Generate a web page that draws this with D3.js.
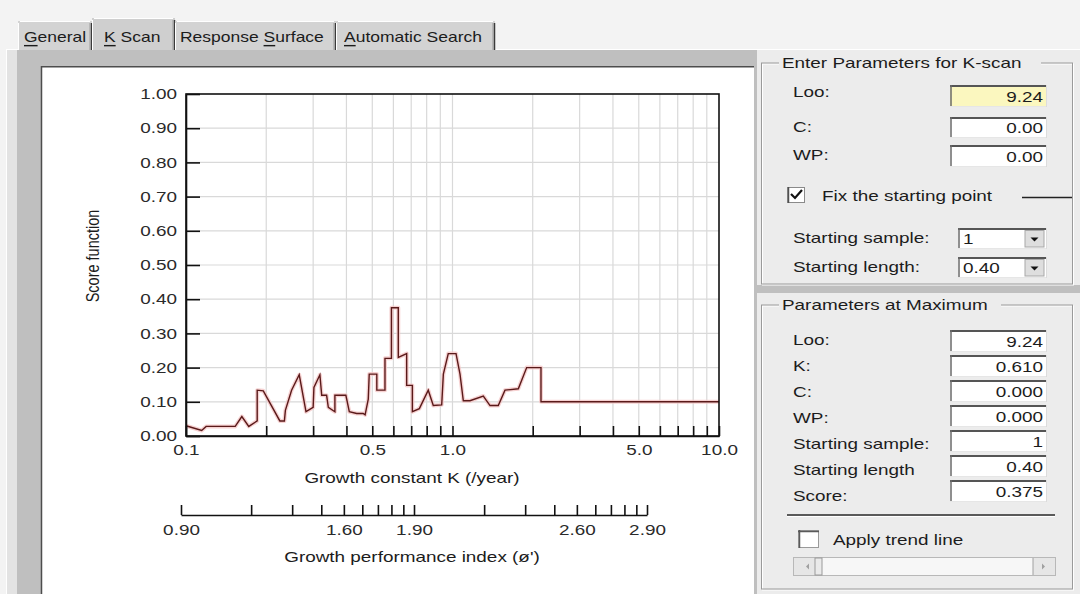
<!DOCTYPE html>
<html>
<head>
<meta charset="utf-8">
<script src="https://cdn.jsdelivr.net/npm/d3@7"></script>
<style>
  html, body { margin: 0; padding: 0; background: #f3f3f3; }
  svg { display: block; }
  text { font-family: "Liberation Sans", Arial, sans-serif; fill: #1c1c1c; }
</style>
</head>
<body>
<svg id="view" width="1080" height="594"></svg>
<script>
// ---- K-scan result: score function against growth constant K ----
const kValues = [
  0.100, 0.1145, 0.119, 0.153, 0.162, 0.172, 0.185, 0.185, 0.195, 0.225,
  0.234, 0.236, 0.249, 0.266, 0.282, 0.300, 0.302, 0.318, 0.323, 0.337,
  0.342, 0.362, 0.362, 0.398, 0.410, 0.437, 0.462, 0.470, 0.483, 0.487,
  0.520, 0.520, 0.558, 0.558, 0.590, 0.590, 0.626, 0.626, 0.673, 0.673,
  0.707, 0.707, 0.751, 0.811, 0.847, 0.911, 0.924, 0.964, 1.031, 1.067,
  1.098, 1.163, 1.305, 1.383, 1.485, 1.574, 1.766, 1.898, 2.148, 2.148,
  10.0
];
const scores = [
  0.030, 0.016, 0.028, 0.028, 0.057, 0.028, 0.044, 0.134, 0.132, 0.044,
  0.044, 0.075, 0.134, 0.179, 0.071, 0.084, 0.142, 0.179, 0.119, 0.119,
  0.084, 0.071, 0.119, 0.119, 0.071, 0.066, 0.066, 0.062, 0.108, 0.181,
  0.181, 0.134, 0.134, 0.227, 0.227, 0.375, 0.375, 0.230, 0.241, 0.148,
  0.148, 0.071, 0.080, 0.134, 0.089, 0.091, 0.181, 0.241, 0.241, 0.181,
  0.103, 0.103, 0.117, 0.089, 0.089, 0.134, 0.138, 0.200, 0.200, 0.100,
  0.100
];

// ---- axis ticks ----
const kTicks = [0.1, 0.2, 0.3, 0.4, 0.5, 0.6, 0.7, 0.8, 0.9,
                1, 2, 3, 4, 5, 6, 7, 8, 9, 10];
const kLabelTicks = [0.1, 0.5, 1, 5, 10];
const kLabelText = ["0.1", "0.5", "1.0", "5.0", "10.0"];
const phiLabelText = ["0.90", "1.60", "1.90", "2.60", "2.90"];
const scoreTicks = [0, 0.1, 0.2, 0.3, 0.4, 0.5, 0.6, 0.7, 0.8, 0.9, 1.0];

// ---- dialog contents ----
const tabNames = [
  { pre: "", key: "G", post: "eneral" },
  { pre: "", key: "K", post: " Scan" },
  { pre: "Response ", key: "S", post: "urface" },
  { pre: "", key: "A", post: "utomatic Search" }
];
const scanLabels = ["Loo:", "C:", "WP:"];
const scanValues = ["9.24", "0.00", "0.00"];
const startSample = "1";
const startLength = "0.40";
const maxLabels = ["Loo:", "K:", "C:", "WP:", "Starting sample:", "Starting length", "Score:"];
const maxValues = ["9.24", "0.610", "0.000", "0.000", "1", "0.40", "0.375"];

const SX = 1.35;      // horizontal stretch of the dialog font
const SX_TAB = 1.25;
const FS = 14;

const svg = d3.select("#view");

function txt(g, x, y, s, anchor = "start", size = FS) {
  return g.append("text")
    .attr("transform", `translate(${x},${y}) scale(${SX},1)`)
    .attr("text-anchor", anchor)
    .attr("dominant-baseline", "central")
    .style("font-size", size + "px")
    .text(s);
}
function hline(g, x1, x2, y, c, w = 1) {
  g.append("line").attr("x1", x1).attr("x2", x2).attr("y1", y).attr("y2", y)
    .attr("stroke", c).attr("stroke-width", w);
}
function vline(g, x, y1, y2, c, w = 1) {
  g.append("line").attr("x1", x).attr("x2", x).attr("y1", y1).attr("y2", y2)
    .attr("stroke", c).attr("stroke-width", w);
}

// ---------- window frame ----------
const frame = svg.append("g");
frame.append("rect").attr("width", 1080).attr("height", 594).attr("fill", "#f3f3f3");
frame.append("rect").attr("x", 6).attr("y", 49).attr("width", 1074).attr("height", 545).attr("fill", "#e3e3e3");
hline(frame, 6, 1080, 49.5, "#ffffff");
vline(frame, 6.5, 49, 594, "#ffffff");
frame.append("rect").attr("x", 17).attr("y", 50).attr("width", 1063).attr("height", 544).attr("fill", "#bfbfbf");
frame.append("rect").attr("x", 41).attr("y", 67).attr("width", 713).attr("height", 527).attr("fill", "#ffffff");
vline(frame, 41.5, 66, 594, "#4d4d4d", 1.5);
hline(frame, 41, 754, 66.8, "#4d4d4d", 1.5);

// ---------- tabs ----------
const tabs = svg.append("g");
const tabBounds = [[18, 92], [92, 175], [175, 336], [336, 495]];
const tabTextX = [24, 104, 180, 344];
tabNames.forEach((t, i) => {
  const [x0, x1] = tabBounds[i];
  const sel = i === 1;
  const top = sel ? 18 : 21;
  tabs.append("rect").attr("x", x0).attr("y", top).attr("width", x1 - x0).attr("height", 50 - top)
    .attr("fill", sel ? "#cfcfcf" : "#d3d3d3");
  vline(tabs, x0 + 0.5, top + 2, 50, "#ffffff");
  hline(tabs, x0 + 2, x1 - 2, top + 0.5, "#ffffff");
  vline(tabs, x1 - 0.5, top + 2, 50, "#3a3a3a", 1.5);
  vline(tabs, x1 - 2, top + 2, 50, "#9a9a9a");
  const tx = tabs.append("text")
    .attr("transform", `translate(${tabTextX[i]},37) scale(${SX_TAB},1)`)
    .attr("dominant-baseline", "central")
    .style("font-size", FS + "px");
  if (t.pre) tx.append("tspan").text(t.pre);
  tx.append("tspan").style("text-decoration", "underline").text(t.key);
  tx.append("tspan").text(t.post);
});

// ---------- chart ----------
const x = d3.scaleLog().domain([0.1, 10]).range([186, 719]);
const y = d3.scaleLinear().domain([0, 1]).range([436, 94]);
const xPhi = d3.scaleLog().domain([0.1, 10]).range([181, 647]);

const chart = svg.append("g");

// grid
chart.append("g").selectAll("line").data(kTicks.slice(1, -1)).join("line")
  .attr("x1", d => x(d)).attr("x2", d => x(d)).attr("y1", y(0)).attr("y2", y(1))
  .attr("stroke", "#d9d9d9").attr("stroke-width", 1.2);
chart.append("g").selectAll("line").data(scoreTicks.slice(1, -1)).join("line")
  .attr("x1", x(0.1)).attr("x2", x(10)).attr("y1", d => y(d)).attr("y2", d => y(d))
  .attr("stroke", "#d9d9d9").attr("stroke-width", 1.2);

// score curve
const pts = kValues.map((k, i) => ({ k, s: scores[i] }));
const line = d3.line().x(d => x(d.k)).y(d => y(d.s));
chart.append("path").datum(pts).attr("d", line)
  .attr("fill", "none").attr("stroke", "#f4c6c6").attr("stroke-width", 4).attr("stroke-opacity", 0.8)
  .attr("stroke-linejoin", "round");
chart.append("path").datum(pts).attr("d", line)
  .attr("fill", "none").attr("stroke", "#5a1a1a").attr("stroke-width", 1.4)
  .attr("stroke-linejoin", "miter");

// plot frame
chart.append("rect").attr("x", x(0.1)).attr("y", y(1))
  .attr("width", x(10) - x(0.1)).attr("height", y(0) - y(1))
  .attr("fill", "none").attr("stroke", "#111").attr("stroke-width", 1.6);

function styleAxis(g) {
  g.attr("font-family", null).attr("font-size", null);
  g.selectAll(".tick line").attr("stroke", "#111").attr("stroke-width", 1.6);
  g.select(".domain").attr("stroke", "#111").attr("stroke-width", 1.6);
}

// score axis
const yAxis = chart.append("g").attr("transform", `translate(${x(0.1)},0)`)
  .call(d3.axisLeft(y).tickValues(scoreTicks).tickSize(-14).tickSizeOuter(0)
    .tickFormat(d3.format(".2f")));
styleAxis(yAxis);
yAxis.selectAll(".tick text")
  .attr("x", 0).attr("dy", null).attr("dominant-baseline", "central")
  .attr("transform", `translate(-9,0) scale(${SX},1)`)
  .style("font-size", FS + "px").style("fill", "#2a2a2a");

// K axis
const kAxis = chart.append("g").attr("transform", `translate(0,${y(0)})`)
  .call(d3.axisBottom(x).tickValues(kTicks).tickSize(-10).tickSizeOuter(0)
    .tickFormat(d => { const j = kLabelTicks.indexOf(d); return j >= 0 ? kLabelText[j] : ""; }));
styleAxis(kAxis);
kAxis.selectAll(".tick text")
  .attr("y", 14).attr("dy", null).attr("dominant-baseline", "central")
  .attr("transform", `scale(${SX},1)`)
  .style("font-size", FS + "px").style("fill", "#2a2a2a");

// growth performance index axis
const phiAxis = chart.append("g").attr("transform", "translate(0,515)")
  .call(d3.axisBottom(xPhi).tickValues(kTicks).tickSize(-10).tickSizeOuter(0)
    .tickFormat(d => { const j = kLabelTicks.indexOf(d); return j >= 0 ? phiLabelText[j] : ""; }));
styleAxis(phiAxis);
phiAxis.selectAll(".tick text")
  .attr("y", 15).attr("dy", null).attr("dominant-baseline", "central")
  .attr("transform", `scale(${SX},1)`)
  .style("font-size", FS + "px").style("fill", "#2a2a2a");

// axis titles
txt(chart, 412, 478, "Growth constant K (/year)", "middle");
txt(chart, 412, 557, "Growth performance index (\u00f8')", "middle");
chart.append("text")
  .attr("transform", "translate(93,256) rotate(-90) scale(1,1.3)")
  .attr("text-anchor", "middle").attr("dominant-baseline", "central")
  .style("font-size", "14.5px").text("Score function");

// ---------- right side panels ----------
const side = svg.append("g");
side.append("rect").attr("x", 757).attr("y", 50).attr("width", 323).attr("height", 235).attr("fill", "#ececec");
side.append("rect").attr("x", 757).attr("y", 293).attr("width", 323).attr("height", 301).attr("fill", "#ececec");

function groupBox(g, y0, y1, title, titleW) {
  g.append("rect").attr("x", 762.5).attr("y", y0 + 1).attr("width", 311).attr("height", y1 - y0)
    .attr("fill", "none").attr("stroke", "#ffffff");
  g.append("rect").attr("x", 761.5).attr("y", y0).attr("width", 311).attr("height", y1 - y0)
    .attr("fill", "none").attr("stroke", "#9a9a9a");
  g.append("rect").attr("x", 779).attr("y", y0 - 8).attr("width", titleW).attr("height", 16).attr("fill", "#ececec");
  txt(g, 782, y0, title);
}
function field(g, x0, x1, y0, y1, value, fill = "#ffffff", anchor = "end") {
  g.append("rect").attr("x", x0).attr("y", y0).attr("width", x1 - x0).attr("height", y1 - y0).attr("fill", fill);
  hline(g, x0, x1, y0 + 1, "#555555", 2);
  vline(g, x0 + 1, y0, y1, "#6a6a6a", 1.5);
  hline(g, x0, x1, y1 - 0.5, "#e6e6e6");
  vline(g, x1 - 0.5, y0, y1, "#dcdcdc");
  const cy = (y0 + y1) / 2 + 1;
  if (anchor === "end") txt(g, x1 - 4, cy, value, "end");
  else txt(g, x0 + 5, cy, value, "start");
}
function combo(g, x0, x1, y0, y1, value) {
  field(g, x0, x1, y0, y1, value, "#ffffff", "start");
  const bx = x1 - 22;
  g.append("rect").attr("x", bx).attr("y", y0 + 2.5).attr("width", 19).attr("height", y1 - y0 - 4.5)
    .attr("fill", "#dedede").attr("stroke", "#a8a8a8");
  const cx = bx + 9.5, cy = (y0 + y1) / 2 + 1;
  g.append("path").attr("d", `M${cx - 4},${cy - 2}L${cx + 4},${cy - 2}L${cx},${cy + 2}Z`).attr("fill", "#111");
}

// parameters for the scan
groupBox(side, 63, 284, "Enter Parameters for K-scan", 262);
const scanTop = [85, 117, 145], scanBot = [107, 138, 167], scanLabY = [92, 127, 155];
scanLabels.forEach((l, i) => {
  txt(side, 793, scanLabY[i], l);
  field(side, 950, 1047, scanTop[i], scanBot[i], scanValues[i], i === 0 ? "#fbf7bf" : "#ffffff");
});
// checkbox
side.append("rect").attr("x", 787.5).attr("y", 187.5).attr("width", 17).attr("height", 15)
  .attr("fill", "#ffffff").attr("stroke", "#8a8a8a");
vline(side, 788.5, 187, 203, "#505050", 1.5);
side.append("path").attr("d", "M791,194 L795,198 L802,190").attr("fill", "none")
  .attr("stroke", "#111").attr("stroke-width", 2.2);
txt(side, 822, 196, "Fix the starting point");
hline(side, 1022, 1072, 197.5, "#222", 1.3);
txt(side, 793, 238, "Starting sample:");
combo(side, 958, 1047, 228, 249, startSample);
txt(side, 793, 267, "Starting length:");
combo(side, 958, 1047, 257, 278, startLength);

// parameters at the maximum
groupBox(side, 305, 589, "Parameters at Maximum", 222);
maxLabels.forEach((l, i) => {
  txt(side, 793, 340 + i * 26.1, l);
  field(side, 950, 1047, 330 + i * 25, 352 + i * 25, maxValues[i]);
});
hline(side, 787, 1055, 515, "#2a2a2a", 1.5);
hline(side, 787, 1055, 516.5, "#ffffff", 1);
// trend checkbox
side.append("rect").attr("x", 798.5).attr("y", 530.5).attr("width", 20).attr("height", 17)
  .attr("fill", "#ffffff").attr("stroke", "#9a9a9a");
vline(side, 799.5, 530, 548, "#5a5a5a", 1.5);
hline(side, 798, 819, 531.5, "#5a5a5a", 1.5);
txt(side, 833, 540, "Apply trend line");
// scroll bar
side.append("rect").attr("x", 793.5).attr("y", 557.5).attr("width", 262).attr("height", 18)
  .attr("fill", "#f7f7f7").attr("stroke", "#b8b8b8");
side.append("rect").attr("x", 794).attr("y", 558).attr("width", 21).attr("height", 17).attr("fill", "#e6e6e6");
side.append("rect").attr("x", 815).attr("y", 558).attr("width", 7).attr("height", 17).attr("fill", "#eaeaea")
  .attr("stroke", "#9a9a9a");
side.append("rect").attr("x", 1033).attr("y", 558).attr("width", 22).attr("height", 17).attr("fill", "#e6e6e6");
vline(side, 1033, 558, 575, "#a0a0a0");
side.append("path").attr("d", "M806,566.5 L809,563.5 L809,569.5Z").attr("fill", "#a0a0a0");
side.append("path").attr("d", "M1045,566.5 L1042,563.5 L1042,569.5Z").attr("fill", "#a0a0a0");
</script>
</body>
</html>
